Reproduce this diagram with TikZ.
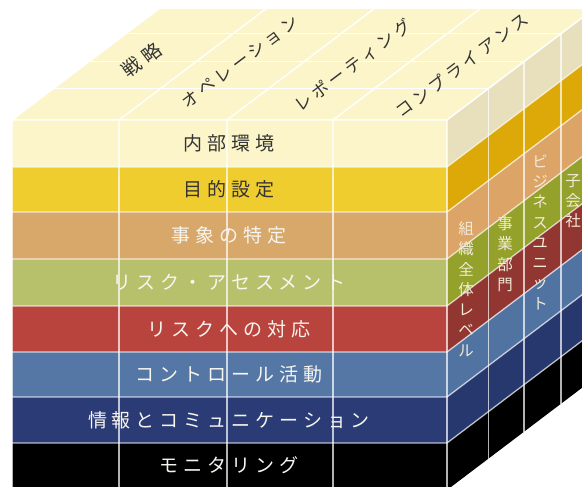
\documentclass[tikz,border=0pt]{standalone}
\usepackage{fontspec}
\setmainfont{Noto Sans CJK JP}
\newfontfamily\jpfront[LetterSpace=26]{Noto Sans CJK JP}
\newfontfamily\jptop[LetterSpace=22]{Noto Sans CJK JP}
\newfontfamily\jptopb[LetterSpace=30]{Noto Sans CJK JP}
\newfontfamily\jpside{Noto Sans CJK JP}
\definecolor{fCream}{HTML}{FBF5C9}
\definecolor{sCream}{HTML}{E8E0BC}
\definecolor{fGold}{HTML}{F0CD2F}
\definecolor{sGold}{HTML}{DDA908}
\definecolor{fTan}{HTML}{D8A76A}
\definecolor{sTan}{HTML}{DCA567}
\definecolor{fGreen}{HTML}{B7C16C}
\definecolor{sGreen}{HTML}{94A22B}
\definecolor{fRed}{HTML}{B9443E}
\definecolor{sRed}{HTML}{923631}
\definecolor{fBlue}{HTML}{5577A6}
\definecolor{sBlue}{HTML}{5073A2}
\definecolor{fNavy}{HTML}{2B3B76}
\definecolor{sNavy}{HTML}{27386F}
\definecolor{fBlack}{HTML}{000000}
\definecolor{sBlack}{HTML}{000000}
\definecolor{dText}{HTML}{333333}
\definecolor{lText}{HTML}{F7F5EF}
\definecolor{sText}{HTML}{F2EAD8}
\tikzset{
  gridline/.style={draw=white, line width=1.3pt, opacity=0.7},
  topline/.style={draw=white, line width=1.4pt},
  ftxt/.style={font={\jpfront\fontsize{19}{22}\selectfont}, inner sep=0pt},
  ttxt/.style={font={\jptop\fontsize{17}{20}\selectfont}, inner sep=0pt, text=dText, rotate=37},
  ttxtb/.style={font={\jptopb\fontsize{19}{22}\selectfont}, inner sep=0pt, text=dText, rotate=37},
  stxt/.style={font={\jpside\fontsize{15.5}{20.3}\selectfont}, inner sep=0pt, align=center, text=sText},
}
\begin{document}
\begin{tikzpicture}[x=1pt,y=-1pt]
\useasboundingbox (0,0) rectangle (582,487);
\clip (0,0) rectangle (582,487);
% top face
\fill[fCream] (12,120) -- (447,120) -- (595,8) -- (160,8) -- cycle;
\foreach \x in {12,119,227,333,447} \draw[topline] (\x,120) -- ++(148,-112);
\foreach \f in {0,0.28,0.52,0.77,1} \draw[topline] (12+148*\f,120-112*\f) -- (447+148*\f,120-112*\f);
% bands, front and side
\foreach \ya/\yb/\cf/\cs in {120/167/fCream/sCream,167/212/fGold/sGold,212/259/fTan/sTan,259/306/fGreen/sGreen,306/352/fRed/sRed,352/397/fBlue/sBlue,397/443/fNavy/sNavy,443/490/fBlack/sBlack}{
  \fill[\cf] (12,\ya) rectangle (447,\yb);
  \fill[\cs] (447,\ya) -- (595,\ya-112) -- (595,\yb-112) -- (447,\yb) -- cycle;
}
% band separators
\foreach \y in {167,212,259,306,352,397,443} \draw[gridline] (12,\y) -- (447,\y) -- (595,\y-112);
\draw[topline] (12,120) -- (447,120) -- (595,8);
% verticals
\foreach \x in {12,119,227,333,447} \draw[gridline] (\x,120) -- (\x,490);
\foreach \f in {0.28,0.52,0.77} \draw[gridline] (447+148*\f,120-112*\f) -- (447+148*\f,490-112*\f);
% front labels
\node[ftxt, text=dText] (l1) at (229,143.5) {内部環境};
\node[ftxt, text=dText] (l2) at (229,189.5) {目的設定};
\node[ftxt, text=lText] (l3) at (229,235.5) {事象の特定};
\node[ftxt, text=lText] (l4) at (229,282.5) {リスク・アセスメント};
\node[ftxt, text=lText] (l5) at (229,329) {リスクへの対応};
\node[ftxt, text=lText] (l6) at (229,374.5) {コントロール活動};
\node[ftxt, text=lText] (l7) at (229,420) {情報とコミュニケーション};
\node[ftxt, text=lText] (l8) at (229,465) {モニタリング};
% top labels
\node[ttxtb] (t1) at (142,60) {戦略};
\node[ttxt] (t2) at (240,62) {オペレーション};
\node[ttxt] (t3) at (353,65) {レポーティング};
\node[ttxt] (t4) at (462,65) {コンプライアンス};
% side labels
\node[stxt] (s1) at (466,289) {組\\織\\全\\体\\レ\\ベ\\ル};
\node[stxt] (s2) at (505,254) {事\\業\\部\\門};
\node[stxt] (s3) at (540,232) {ビ\\ジ\\ネ\\ス\\ユ\\ニ\\ッ\\ト};
\node[stxt] (s4) at (573,201) {子\\会\\社};
\end{tikzpicture}
\end{document}
